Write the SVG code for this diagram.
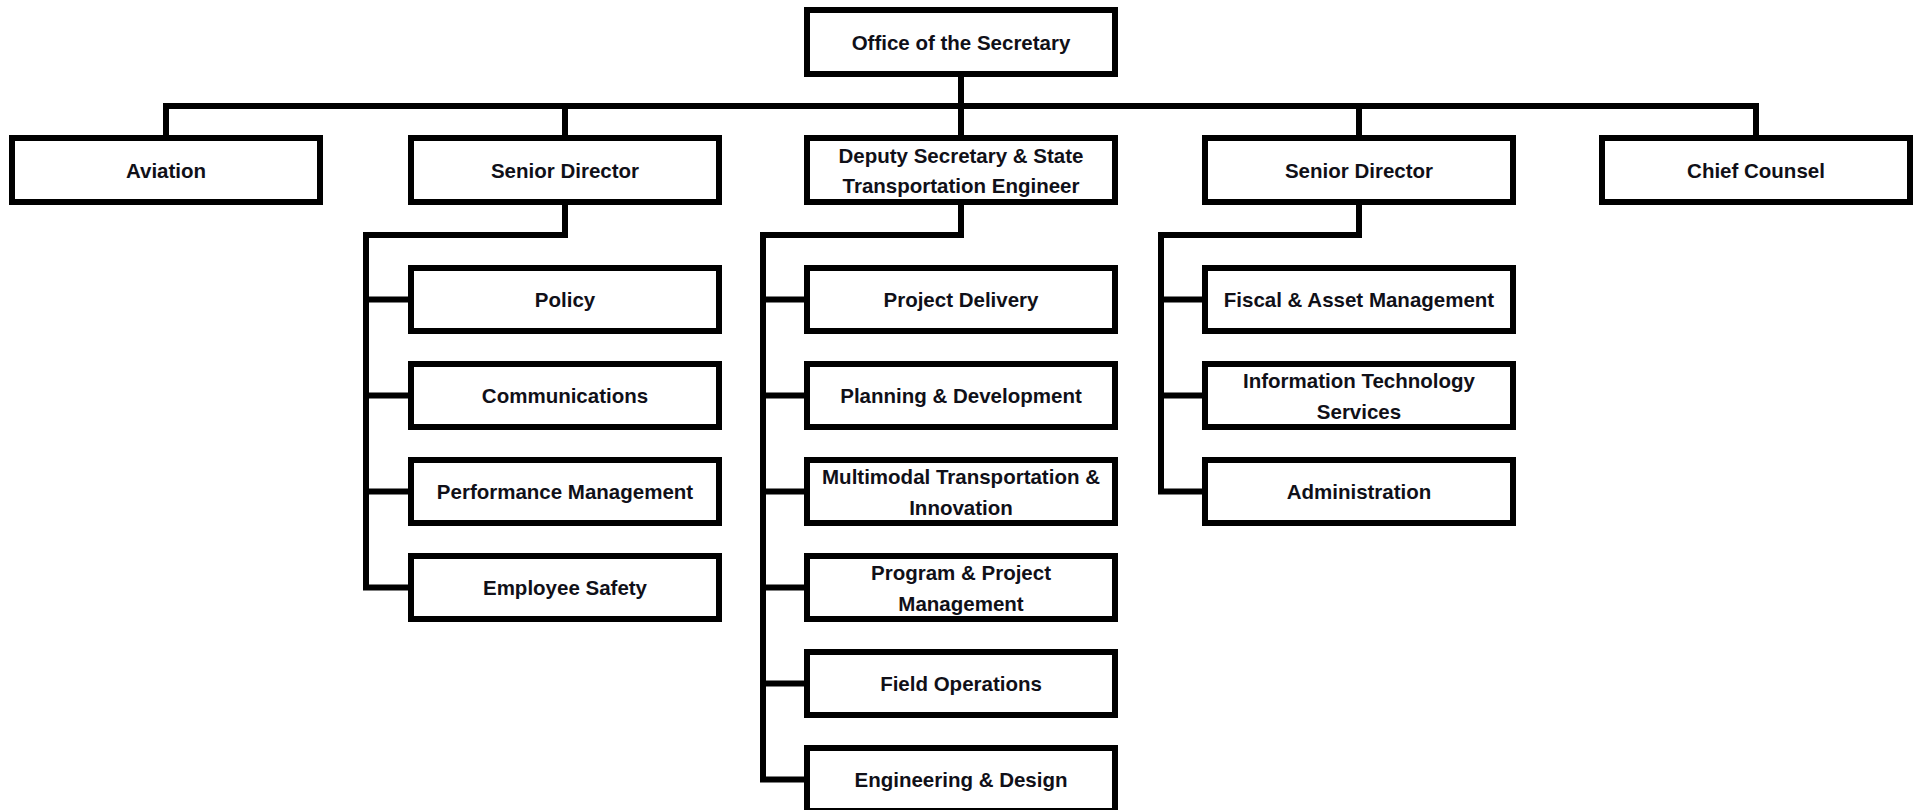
<svg xmlns="http://www.w3.org/2000/svg" width="1920" height="810" viewBox="0 0 1920 810">
<style>
.box{fill:#fff;stroke:#000;stroke-width:6;stroke-linejoin:miter}
.lbl{font-family:"Liberation Sans",Arial,sans-serif;font-weight:bold;font-size:20.5px;fill:#101018;text-anchor:middle}
.conn{fill:none;stroke:#000;stroke-width:6;stroke-linejoin:miter;stroke-linecap:butt}
</style>
<rect width="1920" height="810" fill="#fff"/>
<g id="connectors">
<path class="conn" d="M961,77 V135"/>
<path class="conn" d="M166,135 V106 H1756 V135"/>
<path class="conn" d="M565,106 V135"/>
<path class="conn" d="M1359,106 V135"/>
<path class="conn" d="M565,205 V235 H366 V587.5 H408"/>
<path class="conn" d="M366,299.5 H408 M366,395.5 H408 M366,491.5 H408"/>
<path class="conn" d="M961,205 V235 H763 V779.5 H804"/>
<path class="conn" d="M763,299.5 H804 M763,395.5 H804 M763,491.5 H804 M763,587.5 H804 M763,683.5 H804"/>
<path class="conn" d="M1359,205 V235 H1161 V491.5 H1202"/>
<path class="conn" d="M1161,299.5 H1202 M1161,395.5 H1202"/>
</g>
<g id="office">
<rect class="box" x="807" y="10" width="308" height="64"/>
<text class="lbl" x="961" y="50">Office of the Secretary</text>
</g>
<g id="aviation">
<rect class="box" x="12" y="138" width="308" height="64"/>
<text class="lbl" x="166" y="177.5">Aviation</text>
</g>
<g id="senior-director-left">
<rect class="box" x="411" y="138" width="308" height="64"/>
<text class="lbl" x="565" y="177.5">Senior Director</text>
</g>
<g id="deputy">
<rect class="box" x="807" y="138" width="308" height="64"/>
<text class="lbl" x="961" y="162.5">Deputy Secretary &amp; State</text>
<text class="lbl" x="961" y="193">Transportation Engineer</text>
</g>
<g id="senior-director-right">
<rect class="box" x="1205" y="138" width="308" height="64"/>
<text class="lbl" x="1359" y="177.5">Senior Director</text>
</g>
<g id="chief-counsel">
<rect class="box" x="1602" y="138" width="308" height="64"/>
<text class="lbl" x="1756" y="177.5">Chief Counsel</text>
</g>
<g id="policy">
<rect class="box" x="411" y="268" width="308" height="63"/>
<text class="lbl" x="565" y="307">Policy</text>
</g>
<g id="communications">
<rect class="box" x="411" y="364" width="308" height="63"/>
<text class="lbl" x="565" y="403">Communications</text>
</g>
<g id="performance-management">
<rect class="box" x="411" y="460" width="308" height="63"/>
<text class="lbl" x="565" y="499">Performance Management</text>
</g>
<g id="employee-safety">
<rect class="box" x="411" y="556" width="308" height="63"/>
<text class="lbl" x="565" y="595">Employee Safety</text>
</g>
<g id="project-delivery">
<rect class="box" x="807" y="268" width="308" height="63"/>
<text class="lbl" x="961" y="307">Project Delivery</text>
</g>
<g id="planning-development">
<rect class="box" x="807" y="364" width="308" height="63"/>
<text class="lbl" x="961" y="403">Planning &amp; Development</text>
</g>
<g id="multimodal">
<rect class="box" x="807" y="460" width="308" height="63"/>
<text class="lbl" x="961" y="483.5">Multimodal Transportation &amp;</text>
<text class="lbl" x="961" y="514.5">Innovation</text>
</g>
<g id="program-project">
<rect class="box" x="807" y="556" width="308" height="63"/>
<text class="lbl" x="961" y="579.5">Program &amp; Project</text>
<text class="lbl" x="961" y="610.5">Management</text>
</g>
<g id="field-operations">
<rect class="box" x="807" y="652" width="308" height="63"/>
<text class="lbl" x="961" y="691">Field Operations</text>
</g>
<g id="engineering-design">
<rect class="box" x="807" y="748" width="308" height="63"/>
<text class="lbl" x="961" y="787">Engineering &amp; Design</text>
</g>
<g id="fiscal-asset">
<rect class="box" x="1205" y="268" width="308" height="63"/>
<text class="lbl" x="1359" y="307">Fiscal &amp; Asset Management</text>
</g>
<g id="information-technology">
<rect class="box" x="1205" y="364" width="308" height="63"/>
<text class="lbl" x="1359" y="387.5">Information Technology</text>
<text class="lbl" x="1359" y="418.5">Services</text>
</g>
<g id="administration">
<rect class="box" x="1205" y="460" width="308" height="63"/>
<text class="lbl" x="1359" y="499">Administration</text>
</g>
</svg>
